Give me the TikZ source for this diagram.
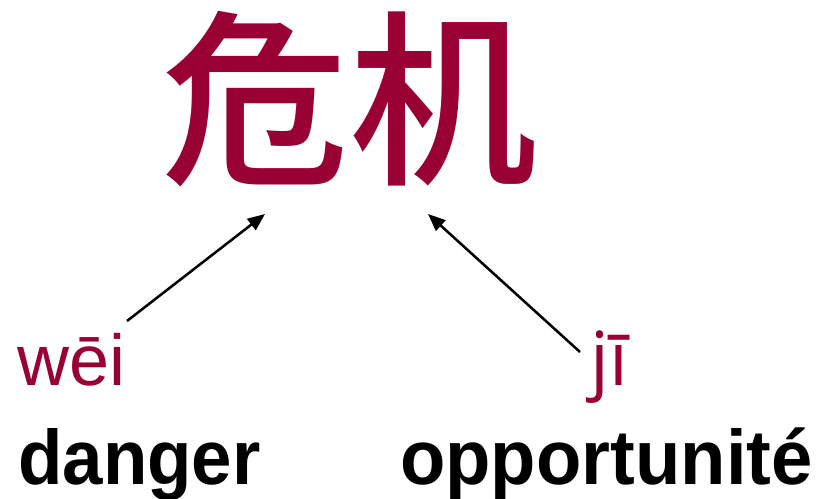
\documentclass[tikz,border=0pt]{standalone}
\usepackage{fontspec}
\setmainfont{Liberation Sans}
\newfontfamily\cjk{Noto Sans CJK SC Medium}
\newfontfamily\jifont{Open Sans}
\usetikzlibrary{arrows.meta}
\definecolor{crisisred}{RGB}{153,0,51}
\begin{document}
\begin{tikzpicture}[x=0.75pt,y=-0.75pt,
  cjkchar/.style={inner sep=0pt,anchor=base west,text=crisisred,font=\cjk\fontsize{141pt}{150pt}\selectfont},
  pinyin/.style={inner sep=0pt,anchor=base west,text=crisisred,font=\fontsize{54pt}{56pt}\selectfont},
  meaning/.style={inner sep=0pt,anchor=base west,text=black,font=\bfseries\fontsize{58pt}{60pt}\selectfont},
  pointer/.style={line width=1.9pt,-{Triangle[length=13pt,width=10.5pt]}}]
\useasboundingbox (0,0) rectangle (818,499);
\node[cjkchar] (wei) at (161,171) {危};
\node[cjkchar] (ji) at (349,171) {机};
\node[pinyin] (weipy) at (17,385) {wēi};
\node[pinyin,font=\jifont\fontsize{56pt}{58pt}\selectfont] (jipy) at (590,385) {jī};
\node[meaning] (danger) at (18,484) {\scalebox{0.94}[1]{danger}};
\node[meaning] (opp) at (400,484) {\scalebox{0.96}[1]{opportunité}};
\coordinate (s1) at (127,321);
\coordinate (t1) at (265,214);
\coordinate (s2) at (580,352);
\coordinate (t2) at (428,214);
\draw[pointer] (s1) -- (t1);
\draw[pointer] (s2) -- (t2);
\end{tikzpicture}
\end{document}
